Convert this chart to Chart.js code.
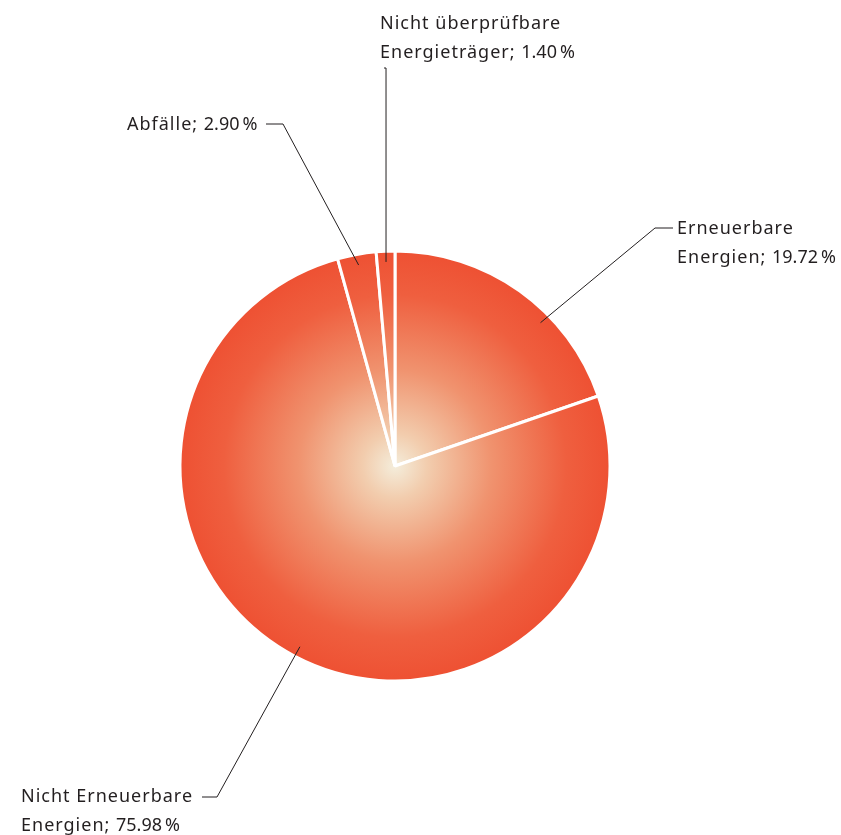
<!DOCTYPE html>
<html lang="de">
  <head>
    <meta charset="UTF-8" />
    <title>Energieträger</title>
    <script src="https://cdn.jsdelivr.net/npm/chart.js"></script>
    <style>
      html, body { margin: 0; padding: 0; background: #fff; }
      .chart-container { width: 841px; height: 835px; position: relative; }
    </style>
  </head>
  <body>
    <div class="chart-container">
      <canvas id="pieChart"></canvas>
    </div>

    <script>
      const categories = [
        ["Erneuerbare", "Energien; 19.72\u202f%"],
        ["Nicht Erneuerbare", "Energien; 75.98\u202f%"],
        ["Abfälle; 2.90\u202f%"],
        ["Nicht überprüfbare", "Energieträger; 1.40\u202f%"],
      ];
      const shares = [19.72, 75.98, 2.9, 1.4];

      // label placement: text anchor, elbow, and where the leader meets the slice
      const labelLayout = [
        { x: 677, y: 229, elbow: [655, 228], start: [673, 228], frac: 0.64 },
        { x: 21, y: 797, elbow: [217, 797], start: [202, 797], frac: 0.5 },
        { x: 127, y: 125, elbow: [283, 124], start: [266, 124], frac: 0.5 },
        { x: 380, y: 24, elbow: null, start: [384, 68], frac: 0.5, vertical: true },
      ];

      const leaderLabels = {
        id: "leaderLabels",
        afterDatasetsDraw(chart) {
          const ctx = chart.ctx;
          const arcs = chart.getDatasetMeta(0).data;
          ctx.save();
          ctx.font = "18px 'Noto Sans'";
          ctx.letterSpacing = "1px";
          ctx.fillStyle = "#231f20";
          ctx.strokeStyle = "#231f20";
          ctx.lineWidth = 1;
          ctx.textBaseline = "middle";
          ctx.textAlign = "left";
          arcs.forEach((arc, i) => {
            const L = labelLayout[i];
            const a = arc.startAngle + (arc.endAngle - arc.startAngle) * L.frac;
            const r = arc.outerRadius * 0.95;
            const ex = arc.x + Math.cos(a) * r;
            const ey = arc.y + Math.sin(a) * r;
            ctx.beginPath();
            ctx.moveTo(L.start[0], L.start[1]);
            if (L.vertical) {
              ctx.lineTo(ex, L.start[1]);
            } else {
              ctx.lineTo(L.elbow[0], L.elbow[1]);
            }
            ctx.lineTo(ex, ey);
            ctx.stroke();
            categories[i].forEach((line, k) => {
              ctx.fillText(line, L.x, L.y + k * 29);
            });
          });
          ctx.restore();
        },
      };

      function radialFill(context) {
        const chart = context.chart;
        const area = chart.chartArea;
        if (!area) return "#ef5233";
        const cx = (area.left + area.right) / 2;
        const cy = (area.top + area.bottom) / 2;
        const g = chart.ctx.createRadialGradient(cx, cy, 0, cx, cy, 214);
        g.addColorStop(0, "#f4eddb");
        g.addColorStop(0.15, "#f2cdae");
        g.addColorStop(0.45, "#f0936f");
        g.addColorStop(0.8, "#ef5f3f");
        g.addColorStop(1, "#ee5133");
        return g;
      }

      new Chart(document.getElementById("pieChart"), {
        type: "pie",
        data: {
          labels: categories.map((c) => c.join(" ")),
          datasets: [
            {
              data: shares,
              backgroundColor: radialFill,
              borderColor: "#ffffff",
              borderWidth: 3,
            },
          ],
        },
        options: {
          responsive: true,
          maintainAspectRatio: false,
          animation: false,
          radius: 215,
          layout: { padding: { left: 0, right: 51, top: 97, bottom: 0 } },
          plugins: {
            legend: { display: false },
            tooltip: { enabled: false },
          },
        },
        plugins: [leaderLabels],
      });
    </script>
  </body>
</html>
